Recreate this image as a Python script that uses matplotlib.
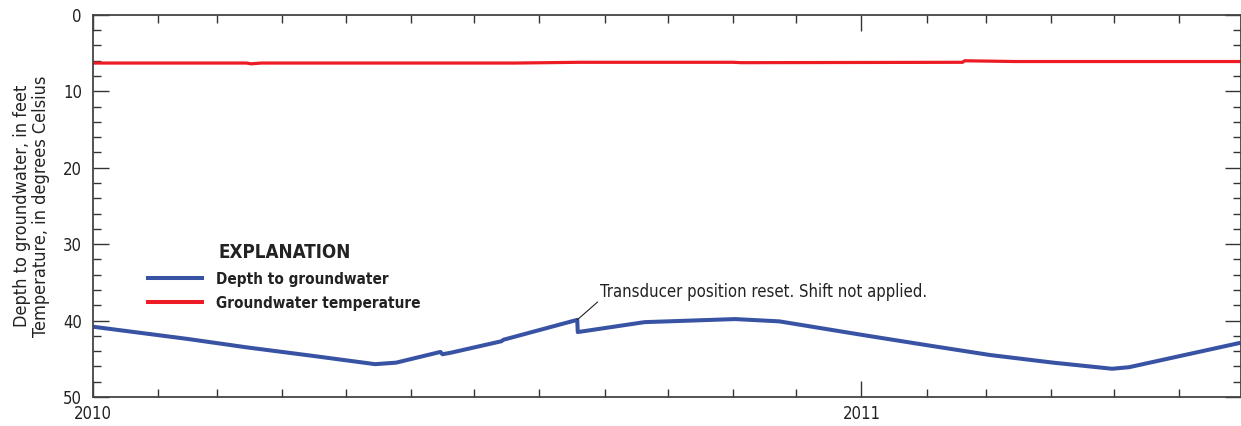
import numpy as np
import pandas as pd
import matplotlib
matplotlib.use("Agg")
from matplotlib import pyplot as plt
import matplotlib.dates as mdates
from matplotlib.lines import Line2D

plt.rcParams['font.family'] = ['DejaVu Sans']
plt.rcParams['font.stretch'] = 'condensed'

# Depth to groundwater, feet below land surface
depth_dates = ["2010-01-01 00:00", "2010-02-15 00:00", "2010-03-15 00:00", "2010-04-15 00:00",
               "2010-05-15 00:00", "2010-05-25 00:00", "2010-06-15 00:00", "2010-06-16 00:00",
               "2010-06-20 00:00", "2010-07-14 00:00", "2010-07-15 00:00", "2010-08-19 00:00",
               "2010-08-19 06:00", "2010-09-20 00:00", "2010-11-02 00:00", "2010-11-23 00:00",
               "2011-01-02 00:00", "2011-02-03 00:00", "2011-03-03 00:00", "2011-04-02 00:00",
               "2011-04-30 00:00", "2011-05-08 00:00", "2011-06-30 00:00"]
depth_ft = [40.8, 42.4, 43.5, 44.6,
            45.7, 45.5, 44.1, 44.4,
            44.2, 42.7, 42.5, 39.9,
            41.5, 40.2, 39.8, 40.1,
            41.9, 43.3, 44.5, 45.5,
            46.3, 46.1, 42.9]

# Groundwater temperature, degrees Celsius
temp_dates = ["2010-01-01", "2010-03-15", "2010-03-17", "2010-03-22", "2010-07-20",
              "2010-08-20", "2010-11-01", "2010-11-05", "2011-02-18", "2011-02-19",
              "2011-03-15", "2011-06-30"]
temp_c = [6.3, 6.3, 6.4, 6.3, 6.3,
          6.2, 6.2, 6.25, 6.2, 6.0,
          6.1, 6.1]

blue = '#3953a4'
red = '#ed1c24'

fig = plt.figure(figsize=(12.41, 4.26), dpi=100)
ax = fig.add_axes([0.0749, 0.068, 0.9247, 0.897])

ax.plot(pd.to_datetime(temp_dates), temp_c, color=red, lw=2.3, solid_capstyle='butt')
ax.plot(pd.to_datetime(depth_dates, format='%Y-%m-%d %H:%M'), depth_ft, color=blue, lw=2.9,
        solid_capstyle='butt')

ax.set_xlim(pd.Timestamp("2010-01-01"), pd.Timestamp("2011-06-30"))
ax.set_ylim(50, 0)

ax.xaxis.set_major_locator(mdates.YearLocator())
ax.xaxis.set_major_formatter(mdates.DateFormatter('%Y'))
ax.xaxis.set_minor_locator(mdates.MonthLocator())
ax.yaxis.set_major_locator(plt.MultipleLocator(10))
ax.yaxis.set_minor_locator(plt.MultipleLocator(2))

ax.tick_params(which='both', direction='in', top=True, right=True,
               color='#333333', width=1.0, labelsize=12, labelcolor='#222222')
ax.tick_params(which='major', length=11.5)
ax.tick_params(which='minor', length=5.5)
ax.tick_params(axis='y', pad=8)
ax.tick_params(axis='x', pad=6)
for s in ax.spines.values():
    s.set_color('#444444')
    s.set_linewidth(1.3)

ax.set_ylabel("Depth to groundwater, in feet\nTemperature, in degrees Celsius",
              fontsize=13, color='#222222', labelpad=9, linespacing=1.1)

ax.annotate("Transducer position reset. Shift not applied.",
            xy=(pd.Timestamp("2010-08-19"), 39.9),
            xytext=(pd.Timestamp("2010-08-30"), 36.3),
            ha='left', va='center', fontsize=12, color='#222222',
            arrowprops=dict(arrowstyle='-', color='#222222', lw=0.8,
                            relpos=(0, 0.1), shrinkA=0, shrinkB=0))

handles = [Line2D([], [], color=blue, lw=2.9),
           Line2D([], [], color=red, lw=2.9)]
leg = ax.legend(handles, ["Depth to groundwater", "Groundwater temperature"],
                title="EXPLANATION", loc='upper left',
                bbox_to_anchor=(0.048, 0.402), frameon=False,
                borderpad=0, borderaxespad=0, handlelength=3.5,
                handletextpad=0.95, labelspacing=0.6,
                prop={'weight': 'bold', 'size': 11},
                title_fontproperties={'weight': 'bold', 'size': 13.5})
for t in leg.get_texts():
    t.set_color('#222222')
leg.get_title().set_color('#222222')

fig.savefig("out.png", dpi=100)
